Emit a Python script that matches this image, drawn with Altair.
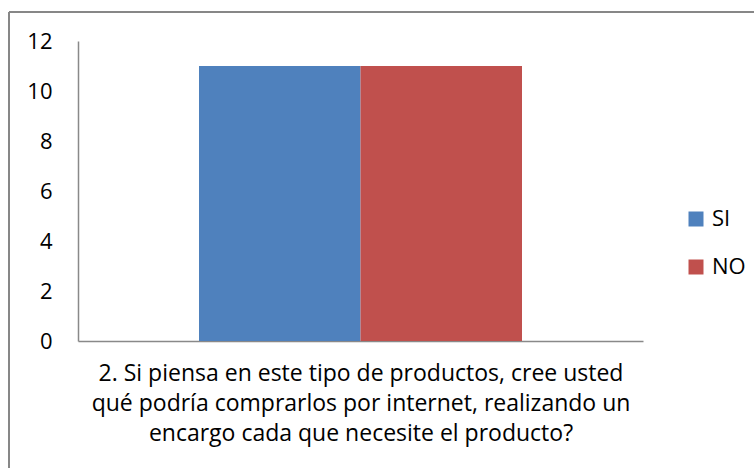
import altair as alt
import pandas as pd

categories = ["2. Si piensa en este tipo de productos, cree usted qué podría comprarlos por internet, realizando un encargo cada que necesite el producto?"]
series = ["SI", "NO"]
values = [11, 11]
title_lines = [
    "2. Si piensa en este tipo de productos, cree usted",
    "qué podría comprarlos por internet, realizando un",
    "encargo cada que necesite el producto?",
]
y_ticks = [0, 2, 4, 6, 8, 10, 12]
colors = ["#4F81BD", "#C0504D"]

df = pd.DataFrame({
    "pregunta": [categories[0]] * len(series),
    "serie": series,
    "valor": values,
})

FONT = "Open Sans"
AXIS_COLOR = "#898989"

bars = alt.Chart(df).mark_bar().encode(
    x=alt.X("pregunta:N",
            scale=alt.Scale(paddingInner=0, paddingOuter=0.3746),
            axis=alt.Axis(labels=False, ticks=False, title=title_lines,
                          titleFont=FONT, titleFontSize=23, titleFontWeight="normal",
                          titleColor="#000000", titlePadding=21, titleLineHeight=30,
                          domainColor=AXIS_COLOR, domainWidth=1.5)),
    xOffset=alt.XOffset("serie:N", sort=series, scale=alt.Scale(paddingInner=0)),
    y=alt.Y("valor:Q",
            scale=alt.Scale(domain=[0, 12]),
            axis=alt.Axis(values=y_ticks, ticks=False, grid=False, title=None,
                          labelFont=FONT, labelFontSize=22, labelColor="#000000",
                          labelPadding=26, domainColor=AXIS_COLOR, domainWidth=1.5)),
    color=alt.Color("serie:N", sort=series,
                    scale=alt.Scale(domain=series, range=colors),
                    legend=alt.Legend(title=None, orient="none", legendX=607, legendY=167,
                                      symbolType="square", symbolSize=225,
                                      symbolStrokeWidth=0, labelFont=FONT,
                                      labelFontSize=22, labelColor="#000000",
                                      labelOffset=5, rowPadding=26, padding=0)),
)

border_top = alt.Chart(df).mark_rule(color="#878787", strokeWidth=2).encode(
    x=alt.value(-69), x2=alt.value(700), y=alt.value(-29)
)
border_left = alt.Chart(df).mark_rule(color="#878787", strokeWidth=2).encode(
    x=alt.value(-69), y=alt.value(-29), y2=alt.value(440)
)

chart = alt.layer(bars, border_top, border_left).properties(
    width=565, height=300,
    autosize=alt.AutoSizeParams(type="none"),
    padding={"left": 78, "top": 41, "right": 111, "bottom": 127},
    background="white",
).configure_view(stroke=None)

chart.save("out.html", embed_options={"renderer": "svg", "actions": False})
